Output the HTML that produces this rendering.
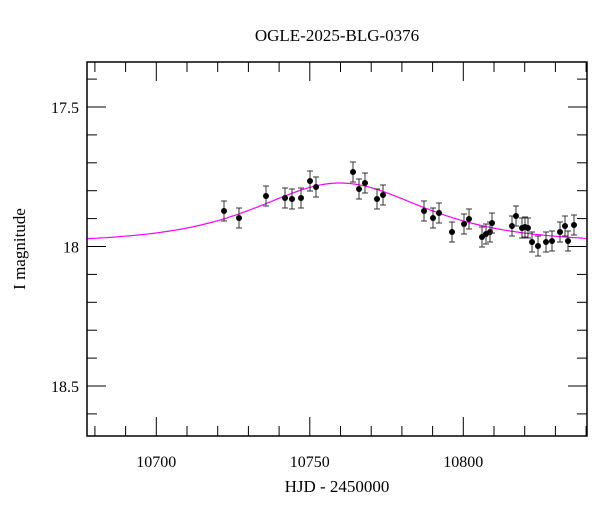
<!DOCTYPE html>
<html><head><meta charset="utf-8"><style>body{margin:0;background:#fff}svg{display:block}</style></head>
<body>
<svg id="s" width="600" height="512" xmlns="http://www.w3.org/2000/svg" font-family="Liberation Serif, serif">
<text x="337" y="41" text-anchor="middle" font-size="17">OGLE-2025-BLG-0376</text>
<text x="337" y="492" text-anchor="middle" font-size="17">HJD - 2450000</text>
<text transform="translate(25,249) rotate(-90)" text-anchor="middle" font-size="17">I magnitude</text>
<g id="g"></g>
</svg>
<script>
const L=87,R=587,T=62,B=436;
const X=d=>156.3+(d-10700)*3.07, Y=m=>107+(m-17.5)*279;
let h='';
const ln=(a,b,c,d,w,col)=>h+=`<line x1="${a}" y1="${b}" x2="${c}" y2="${d}" stroke="${col||'#000'}" stroke-width="${w||1}"/>`;
for(let d=10680;d<=10840;d+=10){const x=X(d),l=d%50==0?19:10;ln(x,B,x,B-l);ln(x,T,x,T+l);
 if(d%50==0)h+=`<text x="${x}" y="${B+31}" text-anchor="middle" font-size="16">${d}</text>`;}
for(let k=174;k<=186;k++){const m=k/10,y=Y(m);if(y<T||y>B)continue;const l=(k%5==0)?19:10;ln(L,y,L+l,y);ln(R,y,R-l,y);
 if(k%5==0)h+=`<text x="${L-8}" y="${y+6}" text-anchor="end" font-size="16">${m==18?'18':m}</text>`;}
let p='';for(let x=L;x<=R;x+=2){const q=1+Math.pow((x-340)/153,2);const y=243-60/(q*q);p+=(x==L?'M':'L')+x+','+y.toFixed(1);}
h+=`<path d="${p}" fill="none" stroke="#f0f" stroke-width="1.2"/>`;
const pts=[[224,211],[239,218],[266,196],[285,198],[292,199],[301,198],[310,181],[316,187],[353,172],[359,189],[365,183],[377,199],[383,195],[424,211],[433,218],[439,213],[452,232],[464,224],[469,219],[482,237],[486,234],[490,232],[492,223],[512,226],[516,216],[522,228],[525,227],[528,228],[532,242],[538,246],[546,242],[552,241],[560,232],[565,226],[568,241],[574,225]];
for(const[x,y]of pts){ln(x,y-10,x,y+10,1,'#333');ln(x-3,y-10,x+3,y-10,1,'#333');ln(x-3,y+10,x+3,y+10,1,'#333');h+=`<circle cx="${x}" cy="${y}" r="3" fill="#000"/>`;}
h+=`<rect x="${L}" y="${T}" width="${R-L}" height="${B-T}" fill="none" stroke="#000" stroke-width="1.5"/>`;
document.getElementById('g').innerHTML=h;
</script>
</body></html>
